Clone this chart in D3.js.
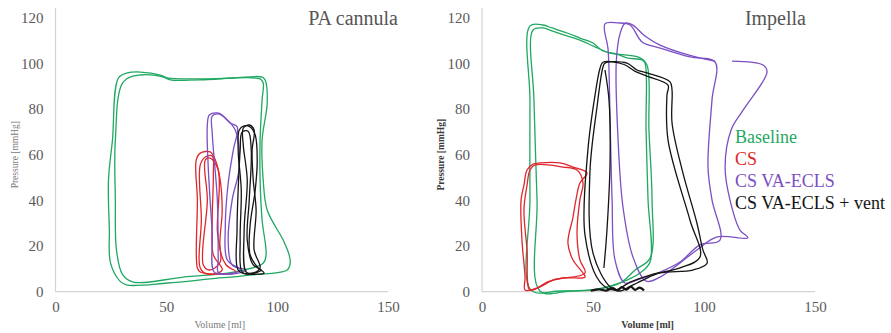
<!DOCTYPE html>
<html>
<head>
<meta charset="utf-8">
<script src="https://cdn.jsdelivr.net/npm/d3@7"></script>
<style>
  body { margin: 0; background: #fff; }
  svg { display: block; }
  svg text { font-family: "Liberation Serif", "Times New Roman", Times, "DejaVu Serif", serif; }
</style>
</head>
<body>
<svg id="chart" width="891" height="333"></svg>
<script>
// ---------- data ----------
const volumeTicks = [0, 50, 100, 150];
const pressureTicks = [0, 20, 40, 60, 80, 100, 120];
const panelTitles = ["PA cannula", "Impella"];
const seriesNames = ["Baseline", "CS", "CS VA-ECLS", "CS VA-ECLS + vent"];
const seriesColors = ["#1fa862", "#e0262b", "#7c4fc3", "#141414"];

// PA cannula loops: [volume ml, pressure mmHg]
const paBaseline1 = [[32.4,2.9],[50.5,3.8],[69.8,5.6],[87.8,7.3],[104.5,9.5],[105.9,12.5],[105.4,16.1],[102.7,22.6],[95.5,35.8],[93.7,48.9],[93.2,66.4],[95.5,82.7],[94.6,92.7],[93.2,94],[80.2,93.6],[65.3,93.2],[50.5,93.6],[47.3,94.9],[38.3,96.2],[32.4,95.8],[28.4,93.6],[25.7,66.4],[23.9,48.9],[24.3,27],[24.8,12.6],[29.3,4.4]];
const paBaseline2 = [[35.1,4.2],[57.7,6.4],[80.2,8.6],[93.7,12.5],[95,16.1],[93.2,31.4],[92.3,48.9],[92.3,66.4],[93.2,84],[93.7,91.4],[92.3,93.2],[65.3,92.8],[51.8,92.8],[48.6,94],[38.3,94.9],[30.6,91.9],[27,66.4],[27,40.2],[27.5,18.3],[30.2,7.6]];
const paCS1 = [[64,10.4],[64,40.2],[63.5,57.7],[65.3,60.7],[69.8,61.2],[72.1,57.7],[74.3,48.9],[75.2,35.8],[74.3,18.3],[77,11.7],[81.5,8.6],[72.1,7.7],[65.3,8.6]];
const paCS2 = [[65.3,10.4],[65.8,31.4],[65.3,55.5],[67.6,59],[70.7,59.4],[71.2,51.1],[70.7,31.4],[71.2,16.1],[75.2,9.5],[68.5,7.7]];
const paCS3 = [[66.7,11.7],[68.5,40.2],[67.6,57.7],[69.8,58.5],[73.4,53.3],[73,27],[74.3,13],[69.4,9.5]];
const paECLS1 = [[71.6,8.6],[70.7,25.7],[68.9,54.6],[68.5,73],[69.4,77.4],[73,78.3],[75.2,77.4],[78.8,73.9],[82,72.1],[80.2,62],[77.9,47.5],[76.6,28.3],[77.5,13.9],[83.3,9.5],[76.6,7.7]];
const paECLS2 = [[73.4,8.6],[73.4,13.9],[73,40.2],[70.7,69.5],[70.7,76.9],[73.9,77.8],[76.6,76],[81.1,70.8],[82.9,54.6],[79.7,40.2],[77.9,22.6],[79.7,11.7],[86.1,9.5],[79.3,7.7]];
const paVent1 = [[84.2,8.6],[83.3,22.6],[83.8,44.5],[82.4,62],[82.9,70.8],[85.1,72.6],[87.8,72.1],[90.1,68.6],[91,57.7],[90.1,44.5],[87.8,29.1],[87.8,16.1],[91.4,10.4],[94.1,8.2],[87.8,7.7]];
const paVent2 = [[86,8.6],[85.1,27],[86.5,48.9],[84.7,64.3],[84.7,71.6],[87.4,73],[89.6,70.8],[88.7,62],[89.2,48.9],[90.5,35.8],[89.6,18.3],[92.3,10.4],[89.2,8.2]];
const paVent3 = [[82.4,9.5],[81.9,27],[82.4,44.5],[83.3,62],[84.2,69.9],[86.9,70.3],[88.3,62],[87.4,40.2],[86.5,22.6],[89.2,11.7],[92.8,9.5],[86.5,7.7]];

// Impella loops
const impBaseline1 = [[22.1,0.7],[35.1,0.3],[48.6,0.7],[56.3,2.1],[65.3,5.1],[71.2,8.2],[75.7,13],[74.8,40.2],[73.9,70.8],[73.4,100.2],[72.1,101.5],[65.3,102.4],[60.8,104.1],[54.5,105.4],[50,108.9],[44.1,111.1],[38.3,113.3],[31.5,115.5],[27.5,116.8],[21.6,116.4],[21.6,84],[21.6,40.2]];
const impBaseline2 = [[26.1,0.3],[39.6,0.3],[53.2,1.2],[62.2,3.8],[69,9.5],[75.7,14.7],[76.6,40.2],[75.2,70.8],[74.3,99.3],[71.2,102.4],[64.4,103.7],[57.7,104.5],[50.9,107.2],[44.1,110.2],[38.3,112],[31.5,114.2],[27.5,115.5],[23,114.6],[23.4,84],[24.8,40.2]];
const impCS1 = [[19.4,0.7],[19.4,6.4],[18,22.6],[17.6,40.2],[18.9,46.7],[20.3,53.3],[23,55.9],[26.1,56.4],[35.1,56.4],[41,54.6],[47.3,52],[44.1,47.6],[42.3,40.2],[41,32.7],[38.7,21.3],[41,13.9],[45.5,8.2],[46.4,6.4],[36.5,6],[29.3,4.2],[24.8,1.6]];
const impCS2 = [[21.6,0.7],[20.3,18.3],[18.9,35.8],[20.3,46.7],[21.6,53.3],[23.9,55.5],[36.5,54.6],[42.8,53.3],[45.5,47.6],[44.1,40.2],[42.8,25.7],[44.1,13.9],[46.4,8.2],[32,5.1],[26.1,2.1]];
const impECLS1 = [[55.4,117.3],[61.3,117.7],[66.7,116.8],[72.1,109.4],[80.2,106.7],[93.7,102.8],[105,100.6],[103.6,84],[101.8,54.6],[103.6,40.2],[107.2,22.6],[98.2,20.5],[89.2,13],[80.2,8.6],[71.2,5.6],[64.4,3.8],[59.9,13.9],[58.6,40.2],[57.7,75],[56.8,106]];
const impECLS2 = [[105,101],[93.7,103.5],[80.2,108],[73.4,112],[67.6,117],[64.4,117.5],[62.2,113],[60.5,101],[61.3,66.4],[63.5,37.1],[68,15.2],[74,4.6],[80.2,6.4],[89.2,12.6],[96.8,18.3],[105.9,24],[119.8,23.6],[116.2,27],[111.7,40.2],[109.5,54.6],[112.2,70.8],[117.6,79.5],[128.4,96.2],[126.6,99.3],[112.6,101]];
const impVent1 = [[55.4,100.1],[65.3,100.1],[69.8,97.1],[74.3,95.8],[84.7,91.9],[85.6,88.3],[85.6,73.9],[90.5,52],[96.8,30.1],[99.5,18.3],[101.4,12.5],[95,9.5],[80.2,8.2],[72.5,5.1],[65.3,1.6],[62.2,0.3],[57.7,2.1],[50,16.9],[48.6,52],[51.8,80.9],[54.5,98.4]];
const impVent2 = [[54.5,100.5],[64,99.5],[69,96.5],[74,94.5],[83.8,90.5],[83.3,86],[83.8,66.4],[93.7,31.3],[98.2,15.2],[89.2,10.4],[75.7,7.3],[66.7,4.2],[59.9,0.7],[53.2,4.2],[46.4,24.8],[47.7,62],[50.9,86],[53.2,98]];
const impVent3 = [[54.9,10.4],[56.3,27.1],[57.7,57.7],[57.2,84],[55.4,97.1]];
const impVentFloor = [[49,0.4],[53,1],[56,0.5],[59,1.6],[61,0.6],[63,2],[65,0.9],[67,2.2],[69,0.8],[71,1.8],[73,0.6]];

const panels = [
  { title: panelTitles[0], loops: [
      { s: 0, pts: paBaseline1, closed: true }, { s: 0, pts: paBaseline2, closed: true },
      { s: 1, pts: paCS1, closed: true }, { s: 1, pts: paCS2, closed: true }, { s: 1, pts: paCS3, closed: true },
      { s: 2, pts: paECLS1, closed: true }, { s: 2, pts: paECLS2, closed: true },
      { s: 3, pts: paVent1, closed: true }, { s: 3, pts: paVent2, closed: true }, { s: 3, pts: paVent3, closed: true }
    ], legend: false, boldLabel: false },
  { title: panelTitles[1], loops: [
      { s: 0, pts: impBaseline1, closed: true }, { s: 0, pts: impBaseline2, closed: true },
      { s: 1, pts: impCS1, closed: true }, { s: 1, pts: impCS2, closed: true },
      { s: 2, pts: impECLS1, closed: true }, { s: 2, pts: impECLS2, closed: false },
      { s: 3, pts: impVent1, closed: true }, { s: 3, pts: impVent2, closed: true },
      { s: 3, pts: impVent3, closed: false }, { s: 3, pts: impVentFloor, closed: false, w: 2.2 }
    ], legend: true, boldLabel: true }
];

// ---------- drawing ----------
const svg = d3.select("#chart");
const serif = '"Liberation Serif", "Times New Roman", Times, "DejaVu Serif", serif';
const panelLayout = [{ x0: 55.5, x1: 388 }, { x0: 482, x1: 815 }];
const yBottom = 291.7, yTop = 17.7;

panels.forEach((p, i) => {
  const L = panelLayout[i];
  const x = d3.scaleLinear().domain([0, 150]).range([L.x0, L.x1]);
  const y = d3.scaleLinear().domain([0, 120]).range([yBottom, yTop]);
  const g = svg.append("g");

  // axis lines
  g.append("line").attr("x1", x(0)).attr("x2", x(150)).attr("y1", y(0)).attr("y2", y(0))
    .attr("stroke", "#d4d4d4").attr("stroke-width", 1.2);
  g.append("line").attr("x1", x(0)).attr("x2", x(0)).attr("y1", y(0)).attr("y2", y(124.2))
    .attr("stroke", "#d4d4d4").attr("stroke-width", 1.2);

  const xAxis = g.append("g").attr("transform", `translate(0,${y(0)})`)
    .call(d3.axisBottom(x).tickValues(volumeTicks).tickSize(0).tickPadding(12).tickFormat(d3.format("d")));
  const yAxis = g.append("g").attr("transform", `translate(${x(0)},0)`)
    .call(d3.axisLeft(y).tickValues(pressureTicks).tickSize(0).tickPadding(12).tickFormat(d3.format("d")));
  [xAxis, yAxis].forEach(a => {
    a.attr("font-family", null);
    a.select(".domain").remove();
    a.selectAll("text").style("font-family", serif).attr("font-size", 15).attr("fill", "#5a5a5a");
  });
  xAxis.selectAll("text").attr("dy", "0.55em");

  // axis titles
  g.append("text").attr("x", (x(0) + x(150)) / 2).attr("y", 328)
    .attr("text-anchor", "middle").style("font-family", serif).attr("font-size", 10)
    .attr("fill", p.boldLabel ? "#3a3a3a" : "#7a7a7a").attr("font-weight", p.boldLabel ? "bold" : "normal")
    .attr("transform", i === 0 ? "translate(-2,0)" : "translate(-1,0)")
    .text("Volume [ml]");
  g.append("text")
    .attr("transform", `translate(${x(0) - 41},${y(60)}) rotate(-90)`)
    .attr("text-anchor", "middle").attr("dy", "0.35em")
    .style("font-family", serif).attr("font-size", 9.5)
    .attr("fill", p.boldLabel ? "#3a3a3a" : "#7a7a7a").attr("font-weight", p.boldLabel ? "bold" : "normal")
    .text("Pressure [mmHg]");

  // panel title
  g.append("text").attr("x", i === 0 ? 398 : 806).attr("y", 25)
    .attr("text-anchor", "end").style("font-family", serif).attr("font-size", 20)
    .attr("fill", "#555").text(p.title);

  // loops
  const lineClosed = d3.line().x(d => x(d[0])).y(d => y(d[1])).curve(d3.curveCatmullRomClosed.alpha(0.5));
  const lineOpen = d3.line().x(d => x(d[0])).y(d => y(d[1])).curve(d3.curveCatmullRom.alpha(0.5));
  g.selectAll("path.loop").data(p.loops).join("path").attr("class", "loop")
    .attr("d", d => (d.closed ? lineClosed : lineOpen)(d.pts))
    .attr("fill", "none")
    .attr("stroke", d => seriesColors[d.s])
    .attr("stroke-width", d => d.w || 1.3)
    .attr("stroke-linejoin", "round");

  // legend
  if (p.legend) {
    const lg = g.append("g");
    lg.selectAll("text").data(seriesNames).join("text")
      .attr("x", 735).attr("y", (d, k) => 143 + k * 22)
      .style("font-family", serif).attr("font-size", 18)
      .attr("fill", (d, k) => seriesColors[k]).text(d => d);
  }
});
</script>
</body>
</html>
